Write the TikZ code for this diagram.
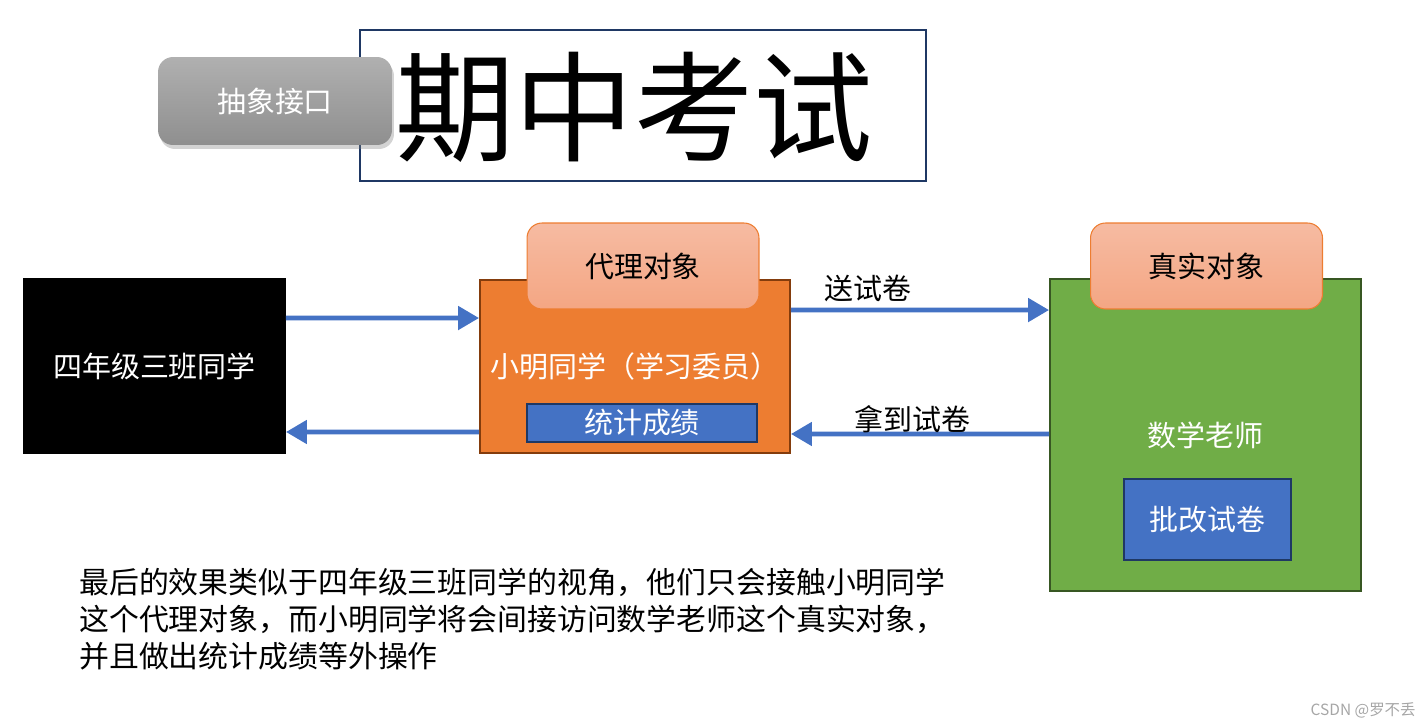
\documentclass[tikz,border=0pt]{standalone}
\usepackage{fontspec}
\setmainfont{Noto Sans CJK SC}
\usetikzlibrary{arrows.meta}
\usetikzlibrary{positioning}
\usetikzlibrary{shadows}
\definecolor{mblue}{HTML}{4472C4}
\definecolor{mnavy}{HTML}{1F3864}
\definecolor{morange}{HTML}{ED7D31}
\definecolor{mbrown}{HTML}{843C0C}
\definecolor{mgreen}{HTML}{70AD47}
\definecolor{mdkgreen}{HTML}{385723}
\definecolor{mpeachtop}{HTML}{F6BBA2}
\definecolor{mpeachbot}{HTML}{F4A683}
\definecolor{mgraytop}{HTML}{B0B0B0}
\definecolor{mgraybot}{HTML}{8F8F8F}
\definecolor{mmark}{HTML}{A6A6A6}
\tikzset{txt/.style = {font=\fontsize{16.5}{20}\selectfont}}
\tikzset{box/.style = {draw, line width=1.1pt, txt}}
\tikzset{tag/.style = {draw=morange, line width=0.6pt, rounded corners=0.3cm,
                       top color=mpeachtop, bottom color=mpeachbot,
                       minimum width=4.64cm, minimum height=1.72cm, txt}}
\tikzset{flow/.style = {draw=mblue, line width=2.8pt,
                        -{Triangle[length=0.42cm, width=0.46cm]}}}

\begin{document}
\begin{tikzpicture}[x=0.02cm, y=-0.02cm]
    \useasboundingbox (0, 0) rectangle (1422, 727);

    \node [box, draw=mnavy, minimum width=11.32cm, minimum height=3.02cm] (title) at (643, 105.5) {};
    \node [font=\fontsize{68}{72}\selectfont] (titletext) at (634, 107) {期中考试};

    \node [rounded corners=0.3cm, top color=mgraytop, bottom color=mgraybot,
           drop shadow={opacity=0.35, shadow xshift=0.04cm, shadow yshift=-0.08cm},
           minimum width=4.68cm, minimum height=1.76cm, text=white, txt] (iface) at (275, 101) {抽象接口};

    \node [box, fill=black, text=white, minimum width=5.22cm, minimum height=3.48cm] (class) at (154.5, 366) {四年级三班同学};

    \node [box, draw=mbrown, fill=morange, text=white, minimum width=6.2cm, minimum height=3.46cm] (proxy) at (635, 366.5) {小明同学（学习委员）};
    \node [tag] (proxytag) at (643, 266) {代理对象};
    \node [box, draw=mnavy, fill=mblue, text=white, inner sep=0, minimum width=4.6cm, minimum height=0.76cm] (stat) at (642, 423) {统计成绩};

    \node [box, draw=mdkgreen, fill=mgreen, text=white, minimum width=6.22cm, minimum height=6.24cm] (teacher) at (1205.5, 435) {数学老师};
    \node [tag] (realtag) at (1206.5, 266) {真实对象};
    \node [box, draw=mnavy, fill=mblue, text=white, minimum width=3.34cm, minimum height=1.62cm] (grade) at (1207.5, 519.5) {批改试卷};

    \draw [flow] ([yshift=0.96cm]class.east) -- ([yshift=0.97cm]proxy.west);
    \draw [flow] ([yshift=-1.31cm]proxy.west) -- ([yshift=-1.32cm]class.east);

    \draw [flow] ([yshift=1.13cm]proxy.east) -- ([yshift=2.5cm]teacher.west)
          node [pos=0.3, above, txt] (send) {送试卷};
    \draw [flow] ([yshift=0.02cm]teacher.west) -- ([yshift=-1.35cm]proxy.east)
          node [pos=0.53, above=-0.14cm, txt] (fetch) {拿到试卷};

    \node [anchor=north west, align=left, inner sep=0, font=\fontsize{17}{21}\selectfont] (note) at (79, 568)
          {最后的效果类似于四年级三班同学的视角，他们只会接触小明同学\\
           这个代理对象，而小明同学将会间接访问数学老师这个真实对象，\\
           并且做出统计成绩等外操作};

    \node [anchor=east, text=mmark, inner sep=0, font=\fontsize{8.8}{10}\selectfont] (mark) at (1416, 710) {CSDN @罗不丢};
  \end{tikzpicture}
\end{document}
